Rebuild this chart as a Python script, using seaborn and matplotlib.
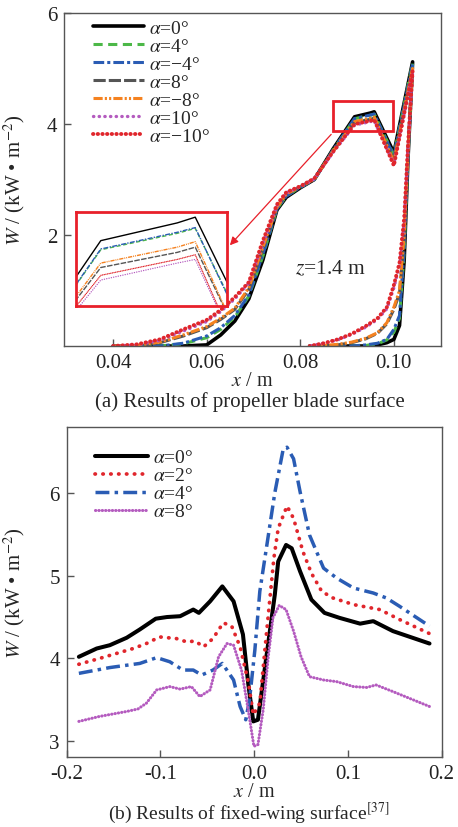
import matplotlib
matplotlib.use("Agg")
import matplotlib.pyplot as plt
import seaborn as sns
from matplotlib.patches import Rectangle
from matplotlib.ticker import FormatStrFormatter

# ---------------- data: (a) propeller blade, closed loop per angle ----------------
x_upper = [0.0400, 0.0450, 0.0500, 0.0550, 0.0600, 0.0630, 0.0660, 0.0690, 0.0720, 0.0750,
           0.0770, 0.0800, 0.0830, 0.0870, 0.0916, 0.0950, 0.0958, 0.1000, 0.1040]
x_lower = [0.1030, 0.1022, 0.1012, 0.1000, 0.0985, 0.0965, 0.0940, 0.0910, 0.0880, 0.0850, 0.0820]
x_loop = x_upper + x_lower

labels_a = ["0°", "4°", "−4°", "8°", "−8°", "10°", "−10°"]

w_a0 = [0, 0, 0, 0, 0.02, 0.20, 0.45, 0.85, 1.55, 2.45, 2.68, 2.85, 3.00, 3.55, 4.130, 4.198, 4.220, 3.48, 5.12,
        3.35, 1.55, 0.37, 0.12, 0.06, 0.02, 0, 0, 0, 0, 0]
w_a4 = [0, 0, 0, 0.04, 0.15, 0.30, 0.52, 0.90, 1.62, 2.47, 2.70, 2.86, 3.00, 3.53, 4.095, 4.158, 4.177, 3.44, 5.10,
        3.40, 1.70, 0.50, 0.25, 0.11, 0.04, 0.01, 0, 0, 0, 0]
w_am4 = [0, 0, 0, 0.05, 0.18, 0.33, 0.55, 0.92, 1.65, 2.47, 2.70, 2.86, 3.00, 3.53, 4.098, 4.162, 4.180, 3.42, 5.08,
         3.40, 1.75, 0.55, 0.30, 0.12, 0.05, 0.02, 0, 0, 0, 0]
w_a8 = [0, 0, 0.06, 0.18, 0.33, 0.48, 0.66, 1.02, 1.75, 2.50, 2.73, 2.87, 3.01, 3.51, 4.027, 4.085, 4.105, 3.35, 5.02,
        3.50, 1.95, 0.95, 0.66, 0.40, 0.23, 0.13, 0.06, 0.02, 0, 0]
w_am8 = [0, 0.01, 0.07, 0.20, 0.35, 0.50, 0.68, 1.05, 1.78, 2.50, 2.74, 2.87, 3.01, 3.51, 4.044, 4.105, 4.126, 3.32, 5.00,
         3.50, 2.00, 1.00, 0.70, 0.42, 0.24, 0.14, 0.07, 0.03, 0.01, 0]
w_a10 = [0, 0.02, 0.10, 0.27, 0.44, 0.62, 0.85, 1.13, 1.85, 2.53, 2.76, 2.87, 3.01, 3.49, 3.979, 4.044, 4.058, 3.27, 4.93,
         3.55, 2.25, 1.45, 1.05, 0.67, 0.48, 0.34, 0.21, 0.11, 0.05, 0]
w_am10 = [0, 0.03, 0.12, 0.30, 0.47, 0.65, 0.88, 1.15, 1.90, 2.55, 2.77, 2.88, 3.02, 3.50, 3.997, 4.058, 4.076, 3.25, 4.95,
          3.60, 2.30, 1.50, 1.10, 0.70, 0.50, 0.36, 0.22, 0.12, 0.05, 0]

# ---------------- data: (b) fixed wing ----------------
labels_b = ["0°", "2°", "4°", "8°"]

x_b0 = [-0.187, -0.168, -0.154, -0.136, -0.122, -0.105, -0.093, -0.079, -0.065, -0.059, -0.047, -0.034,
        -0.022, -0.012, -0.0064, -0.001, 0.004, 0.013, 0.022, 0.0256, 0.034, 0.040, 0.049, 0.061, 0.075,
        0.091, 0.113, 0.127, 0.148, 0.187]
w_b0 = [4.02, 4.12, 4.16, 4.25, 4.35, 4.48, 4.50, 4.51, 4.59, 4.55, 4.69, 4.87,
        4.69, 4.29, 3.70, 3.24, 3.26, 4.02, 4.77, 5.17, 5.37, 5.33, 5.05, 4.71, 4.55,
        4.49, 4.42, 4.45, 4.33, 4.18]

x_b2 = [-0.187, -0.165, -0.129, -0.115, -0.101, -0.083, -0.072, -0.063, -0.054, -0.044, -0.033, -0.024,
        -0.015, -0.006, -0.001, 0.006, 0.013, 0.021, 0.0256, 0.035, 0.042, 0.052, 0.061, 0.072, 0.084,
        0.106, 0.120, 0.134, 0.155, 0.187]
w_b2 = [3.93, 4.00, 4.12, 4.18, 4.26, 4.24, 4.20, 4.21, 4.14, 4.24, 4.43, 4.39,
        4.14, 3.70, 3.32, 3.46, 4.29, 5.21, 5.57, 5.84, 5.69, 5.29, 5.03, 4.81, 4.73,
        4.65, 4.62, 4.59, 4.47, 4.30]

x_b4 = [-0.187, -0.154, -0.122, -0.104, -0.090, -0.076, -0.065, -0.056, -0.044, -0.034, -0.022, -0.015,
        -0.009, -0.005, 0.0007, 0.006, 0.013, 0.022, 0.031, 0.035, 0.042, 0.049, 0.059, 0.074, 0.088,
        0.106, 0.127, 0.141, 0.155, 0.187]
w_b4 = [3.82, 3.89, 3.94, 4.01, 3.96, 3.86, 3.86, 3.80, 3.86, 3.94, 3.74, 3.42,
        3.26, 3.50, 4.10, 4.81, 5.33, 6.00, 6.53, 6.55, 6.41, 6.01, 5.49, 5.09, 4.97,
        4.85, 4.79, 4.73, 4.63, 4.39]

x_b8 = [-0.187, -0.165, -0.136, -0.124, -0.115, -0.104, -0.090, -0.079, -0.067, -0.058, -0.047, -0.038,
        -0.029, -0.022, -0.0135, -0.0064, -0.0003, 0.004, 0.0096, 0.015, 0.020, 0.0267, 0.034, 0.042,
        0.050, 0.059, 0.074, 0.088, 0.106, 0.120, 0.130, 0.148, 0.187]
w_b8 = [3.24, 3.30, 3.36, 3.39, 3.46, 3.62, 3.66, 3.63, 3.66, 3.54, 3.62, 4.02,
        4.18, 4.16, 3.86, 3.38, 2.94, 2.96, 3.38, 4.02, 4.49, 4.64, 4.59, 4.33,
        4.02, 3.78, 3.74, 3.72, 3.66, 3.65, 3.68, 3.60, 3.42]

# ---------------- style ----------------
sns.set_theme(style="white")
plt.rcParams['font.family'] = ['Liberation Serif', 'DejaVu Serif']
plt.rcParams['mathtext.fontset'] = 'stix'
plt.rcParams['axes.unicode_minus'] = True

RED = "#e8202a"
styles_a = [
    dict(color="black", linestyle="-", linewidth=2.6),
    dict(color="#4cb848", linestyle=(0, (3, 1.8)), linewidth=2.2),
    dict(color="#2a5cb4", linestyle=(0, (3.5, 1, 1, 1)), linewidth=2.2),
    dict(color="#555555", linestyle=(0, (4, 1)), linewidth=2.2),
    dict(color="#f58220", linestyle=(0, (3, 0.7, 0.7, 0.7, 0.7, 0.7)), linewidth=2.2),
    dict(color="#b45bbf", linestyle=(0, (0.1, 1.6)), linewidth=2.4, dash_capstyle="round"),
    dict(color="#e0262c", linestyle=(0, (0.1, 1.1)), linewidth=2.8, dash_capstyle="round"),
]
styles_b = [
    dict(color="black", linestyle="-", linewidth=2.9),
    dict(color="#e0262c", linestyle=(0, (0.1, 2.0)), linewidth=2.7, dash_capstyle="round"),
    dict(color="#2a5cb4", linestyle=(0, (4, 1.5, 1, 1.5)), linewidth=2.5),
    dict(color="#b45bbf", linestyle=(0, (0.1, 1.0)), linewidth=2.2, dash_capstyle="round"),
]

fig = plt.figure(figsize=(4.58, 8.28), dpi=100)
ax1 = fig.add_axes([0.1397, 0.5809, 0.8225, 0.4022])
ax2 = fig.add_axes([0.1456, 0.0845, 0.8188, 0.3982])

# ---------------- panel (a) ----------------
series_a = [w_a0, w_a4, w_am4, w_a8, w_am8, w_a10, w_am10]
axins = ax1.inset_axes([0.032, 0.119, 0.40, 0.282])
for lab, w, st in zip(labels_a, series_a, styles_a):
    sns.lineplot(x=x_loop, y=w, ax=ax1, sort=False, estimator=None,
                 label=r"$\alpha$=" + lab, **st)
    thin = dict(st)
    thin["linewidth"] = 1.0
    sns.lineplot(x=x_loop, y=w, ax=axins, sort=False, estimator=None, legend=False, **thin)

ax1.set_xlim(0.0295, 0.110)
ax1.set_ylim(0, 6)
ax1.set_xticks([0.04, 0.06, 0.08, 0.10])
ax1.set_yticks([2, 4, 6])
ax1.xaxis.set_major_formatter(FormatStrFormatter("%.2f"))

axins.set_xlim(0.0905, 0.0972)
axins.set_ylim(3.878, 4.238)
axins.set_xticks([])
axins.set_yticks([])
axins.set_facecolor("white")
for sp in axins.spines.values():
    sp.set_color(RED)
    sp.set_linewidth(2.0)

ax1.add_patch(Rectangle((0.08696, 3.88), 0.09991 - 0.08696, 0.54,
                        fill=False, edgecolor=RED, linewidth=2.0, zorder=5))
ax1.annotate("", xy=(0.06455, 1.778), xytext=(0.0870, 3.85),
             arrowprops=dict(arrowstyle="-|>", color=RED, lw=0.9, mutation_scale=12), zorder=6)
ax1.text(0.0788, 1.39, r"$z$=1.4 m", fontsize=15.5, va="center", ha="left")

ax1.legend(loc="upper left", bbox_to_anchor=(0.078, 0.98), frameon=False, fontsize=14,
           handlelength=2.6, handletextpad=0.25, labelspacing=0.02, borderpad=0, borderaxespad=0)
ax1.set_ylabel(r"$W$ / (kW • m$^{-2}$)", fontsize=15)
ax1.yaxis.set_label_coords(-0.099, 0.5)
ax1.set_xlabel(r"$x$ / m", fontsize=14.5, labelpad=-0.5)

# ---------------- panel (b) ----------------
series_b = [(x_b0, w_b0), (x_b2, w_b2), (x_b4, w_b4), (x_b8, w_b8)]
for lab, (xs, w), st in zip(labels_b, series_b, styles_b):
    sns.lineplot(x=xs, y=w, ax=ax2, sort=False, estimator=None,
                 label=r"$\alpha$=" + lab, **st)

ax2.set_xlim(-0.2, 0.2)
ax2.set_ylim(2.81, 6.79)
ax2.set_xticks([-0.2, -0.1, 0.0, 0.1, 0.2])
ax2.set_yticks([3, 4, 5, 6])
ax2.xaxis.set_major_formatter(FormatStrFormatter("%.1f"))
ax2.legend(loc="upper left", bbox_to_anchor=(0.075, 0.935), frameon=False, fontsize=14,
           handlelength=2.75, handletextpad=0.25, labelspacing=0.02, borderpad=0, borderaxespad=0)
ax2.set_ylabel(r"$W$ / (kW • m$^{-2}$)", fontsize=15)
ax2.yaxis.set_label_coords(-0.107, 0.5)
ax2.set_xlabel(r"$x$ / m", fontsize=14.5, labelpad=-0.5)

for ax in (ax1, ax2):
    for sp in ax.spines.values():
        sp.set_color("#555555")
        sp.set_linewidth(1.0)
    ax.tick_params(axis="both", direction="in", length=5, width=1, color="#555555",
                   labelsize=15, labelcolor="#222222", pad=5,
                   top=False, right=False, bottom=True, left=True)

fig.text(0.546, 0.5149, "(a) Results of propeller blade surface", ha="center", va="center", fontsize=15)
fig.text(0.544, 0.0105, r"(b) Results of fixed-wing surface$^{[37]}$", ha="center", va="baseline", fontsize=14)

fig.savefig("out.png", dpi=100)
